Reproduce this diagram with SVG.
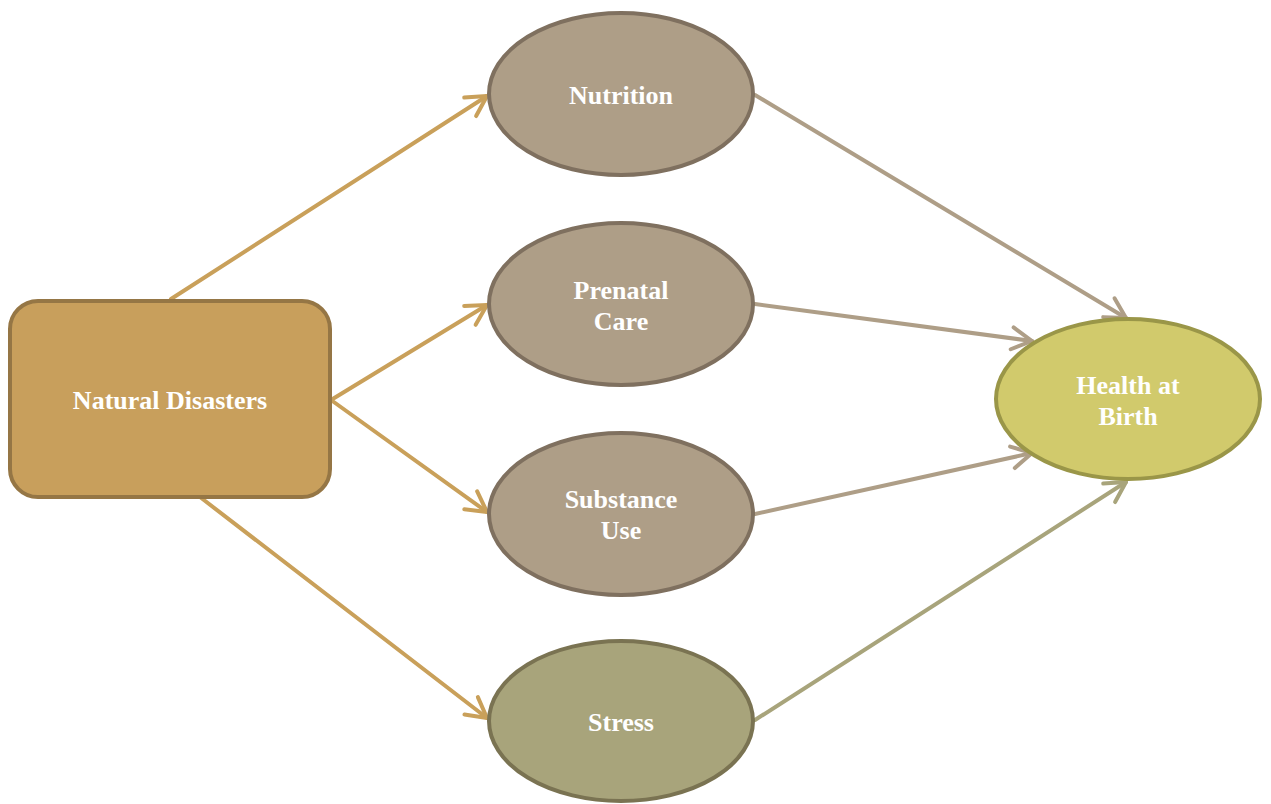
<svg xmlns="http://www.w3.org/2000/svg" width="1271" height="804" viewBox="0 0 1271 804">
<style>
.lbl{font-family:"Liberation Serif","Times New Roman",serif;font-weight:bold;font-size:26px;fill:#ffffff;text-anchor:middle}
.e{fill:#AE9E87;stroke:#7F705F;stroke-width:4}
.c{fill:none;stroke-width:4;stroke-linecap:round;stroke-linejoin:round}
</style>
<defs>
<marker id="mg" markerUnits="userSpaceOnUse" markerWidth="30" markerHeight="30" viewBox="-24 -15 30 30" refX="0" refY="0" orient="auto"><path d="M-20,-11 L0,0 L-20,11" fill="none" stroke="#C9A05A" stroke-width="4" stroke-linecap="round" stroke-linejoin="round"/></marker>
<marker id="mb" markerUnits="userSpaceOnUse" markerWidth="30" markerHeight="30" viewBox="-24 -15 30 30" refX="0" refY="0" orient="auto"><path d="M-20,-11 L0,0 L-20,11" fill="none" stroke="#AE9E87" stroke-width="4" stroke-linecap="round" stroke-linejoin="round"/></marker>
<marker id="mo" markerUnits="userSpaceOnUse" markerWidth="30" markerHeight="30" viewBox="-24 -15 30 30" refX="0" refY="0" orient="auto"><path d="M-20,-11 L0,0 L-20,11" fill="none" stroke="#A8A47B" stroke-width="4" stroke-linecap="round" stroke-linejoin="round"/></marker>
</defs>
<rect width="1271" height="804" fill="#ffffff"/>
<g id="connectors">
<line class="c" x1="171" y1="299" x2="487" y2="96" stroke="#C9A05A" marker-end="url(#mg)"/>
<line class="c" x1="331" y1="400" x2="487" y2="305" stroke="#C9A05A" marker-end="url(#mg)"/>
<line class="c" x1="331" y1="400" x2="487" y2="512" stroke="#C9A05A" marker-end="url(#mg)"/>
<line class="c" x1="200" y1="497" x2="487" y2="718" stroke="#C9A05A" marker-end="url(#mg)"/>
<line class="c" x1="755" y1="95" x2="1126" y2="318" stroke="#AE9E87" marker-end="url(#mb)"/>
<line class="c" x1="755" y1="304" x2="1032" y2="341" stroke="#AE9E87" marker-end="url(#mb)"/>
<line class="c" x1="755" y1="514" x2="1032" y2="453" stroke="#AE9E87" marker-end="url(#mb)"/>
<line class="c" x1="755" y1="720" x2="1126" y2="482" stroke="#A8A47B" marker-end="url(#mo)"/>
</g>
<g id="natural-disasters">
<rect x="10" y="301" width="320" height="196" rx="28" ry="28" fill="#C89F5C" stroke="#957645" stroke-width="4"/>
<text class="lbl" x="170" y="409">Natural Disasters</text>
</g>
<g id="nutrition">
<ellipse class="e" cx="621" cy="94" rx="132" ry="81"/>
<text class="lbl" x="621" y="104">Nutrition</text>
</g>
<g id="prenatal-care">
<ellipse class="e" cx="621" cy="304" rx="132" ry="81"/>
<text class="lbl" x="621" y="299">Prenatal</text>
<text class="lbl" x="621" y="330">Care</text>
</g>
<g id="substance-use">
<ellipse class="e" cx="621" cy="514" rx="132" ry="81"/>
<text class="lbl" x="621" y="508">Substance</text>
<text class="lbl" x="621" y="539">Use</text>
</g>
<g id="stress">
<ellipse cx="621" cy="721" rx="132" ry="80" fill="#A8A47B" stroke="#7A7352" stroke-width="4"/>
<text class="lbl" x="621" y="731">Stress</text>
</g>
<g id="health-at-birth">
<ellipse cx="1128" cy="399" rx="132" ry="80" fill="#D1CA6C" stroke="#9A9648" stroke-width="4"/>
<text class="lbl" x="1128" y="394">Health at</text>
<text class="lbl" x="1128" y="425">Birth</text>
</g>
</svg>
